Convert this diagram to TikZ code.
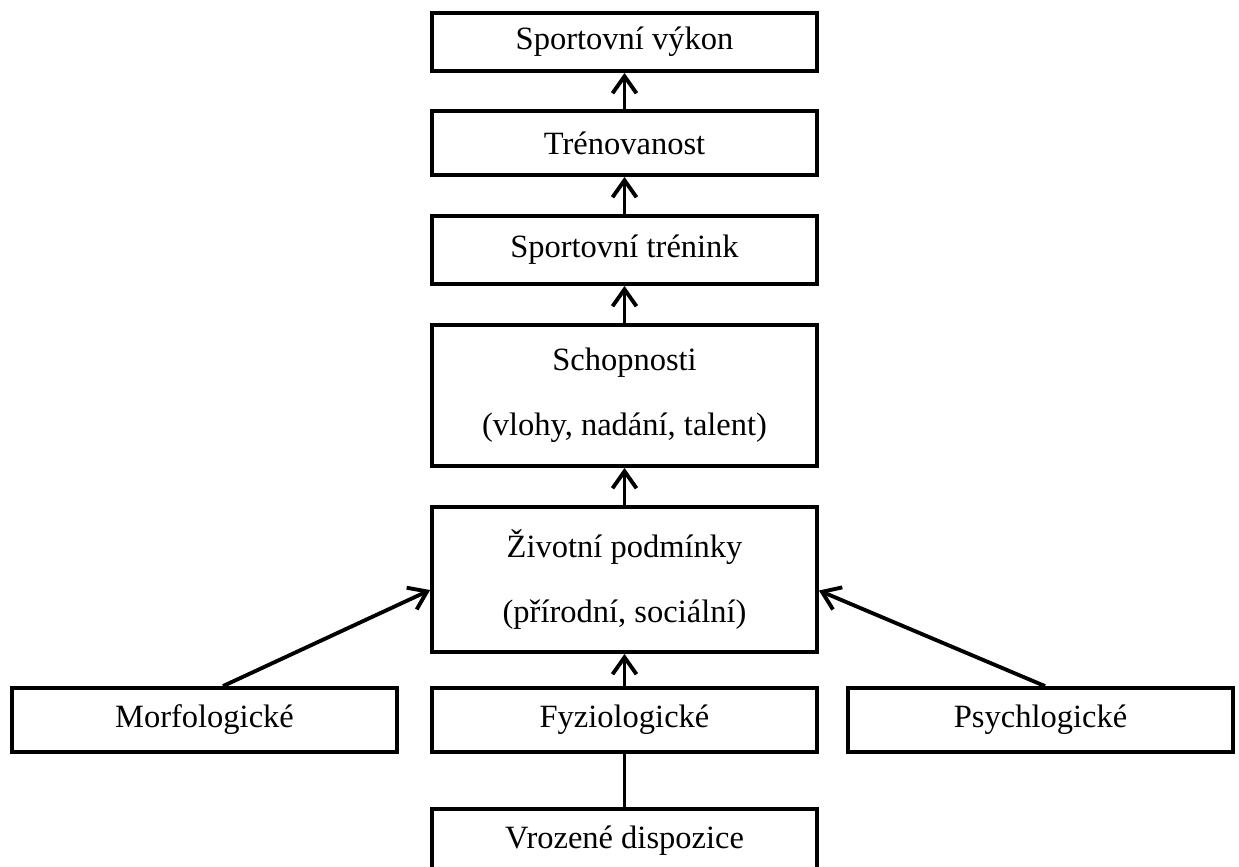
\documentclass[tikz,border=0pt]{standalone}
\usepackage{fontspec}
\setmainfont{Liberation Serif}
\usepackage{tikz}
\usetikzlibrary{arrows.meta}

\begin{document}
\begin{tikzpicture}[x=0.02cm, y=-0.02cm,
  font=\fontsize{18.5}{37}\selectfont,
  box/.style={draw, line width=2.2pt, minimum width=7.7cm, minimum height=1.28cm, inner sep=0pt, align=center},
  up/.style={line width=2.2pt, -{Straight Barb[length=3.4mm, width=4.8mm, line width=2.2pt]}}]
  \useasboundingbox (0,0) rectangle (1239,866);

  % main column
  \node[box, minimum height=1.16cm] (vykon) at (624.5,42) {Sportovní výkon};
  \node[box] (trenovanost) at (624.5,143) {Trénovanost};
  \node[box, minimum height=1.36cm] (trenink) at (624.5,250) {Sportovní trénink};
  \node[box, minimum height=2.82cm] (schopnosti) at (624.5,395.5) {Schopnosti\\(vlohy, nadání, talent)};
  \node[box, minimum height=2.9cm] (podminky) at (624.5,579.5) {Životní podmínky\\(přírodní, sociální)};

  % factors row
  \node[box] (morfo) at (204.5,720) {Morfologické};
  \node[box] (fyzio) at (624.5,720) {Fyziologické};
  \node[box] (psych) at (1040.5,720) {Psychlogické};
  \node[box] (dispozice) at (624.5,841) {Vrozené dispozice};

  % arrows up the column
  \draw[up] (trenovanost) -- (vykon);
  \draw[up] (trenink) -- (trenovanost);
  \draw[up] (schopnosti) -- (trenink);
  \draw[up] (podminky) -- (schopnosti);
  \draw[up] (fyzio) -- (podminky);
  \draw[up] ([xshift=3.7mm]morfo.north) -- ([yshift=-2.1mm]podminky.west);
  \draw[up] ([xshift=0.9mm]psych.north) -- ([yshift=-2.2mm]podminky.east);
  \draw[line width=2.2pt] (dispozice) -- (fyzio);
\end{tikzpicture}
\end{document}
